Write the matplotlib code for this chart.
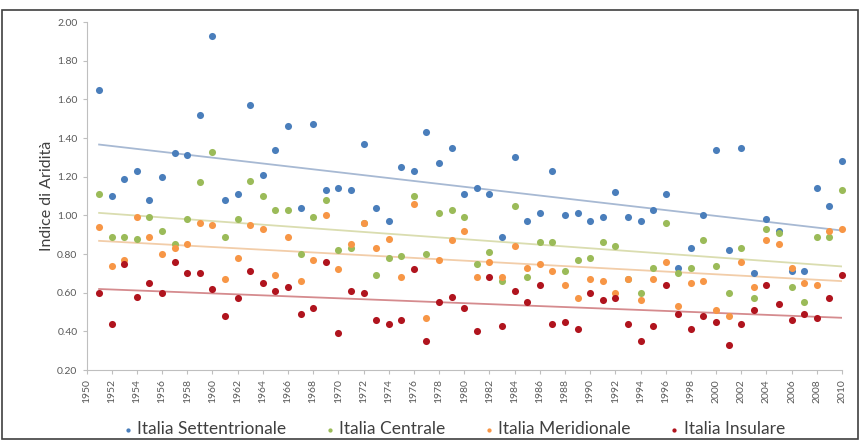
import numpy as np
import matplotlib
matplotlib.use("Agg")
import matplotlib.pyplot as plt
from matplotlib.patches import Rectangle

plt.rcParams['font.family'] = ['Lato', 'DejaVu Sans']

# Data
years = list(range(1951, 2011))

settentrionale = [1.65, 1.10, 1.19, 1.23, 1.08, 1.20, 1.32, 1.31, 1.52, 1.93,
                  1.08, 1.11, 1.57, 1.21, 1.34, 1.46, 1.04, 1.47, 1.13, 1.14,
                  1.13, 1.37, 1.04, 0.97, 1.25, 1.23, 1.43, 1.27, 1.35, 1.11,
                  1.14, 1.11, 0.89, 1.30, 0.97, 1.01, 1.23, 1.00, 1.01, 0.97,
                  0.99, 1.12, 0.99, 0.97, 1.03, 1.11, 0.73, 0.83, 1.00, 1.34,
                  0.82, 1.35, 0.70, 0.98, 0.92, 0.71, 0.71, 1.14, 1.05, 1.28]

centrale = [1.11, 0.89, 0.89, 0.88, 0.99, 0.92, 0.85, 0.98, 1.17, 1.33,
            0.89, 0.98, 1.18, 1.10, 1.03, 1.03, 0.80, 0.99, 1.08, 0.82,
            0.83, 0.96, 0.69, 0.78, 0.79, 1.10, 0.80, 1.01, 1.03, 0.99,
            0.75, 0.81, 0.66, 1.05, 0.68, 0.86, 0.86, 0.71, 0.77, 0.78,
            0.86, 0.84, 0.67, 0.60, 0.73, 0.96, 0.70, 0.73, 0.87, 0.74,
            0.60, 0.83, 0.57, 0.93, 0.91, 0.63, 0.55, 0.89, 0.89, 1.13]

meridionale = [0.94, 0.74, 0.77, 0.99, 0.89, 0.80, 0.83, 0.85, 0.96, 0.95,
               0.67, 0.78, 0.95, 0.93, 0.69, 0.89, 0.66, 0.77, 1.00, 0.72,
               0.85, 0.96, 0.83, 0.88, 0.68, 1.06, 0.47, 0.77, 0.87, 0.92,
               0.68, 0.76, 0.68, 0.84, 0.73, 0.75, 0.71, 0.64, 0.57, 0.67,
               0.66, 0.60, 0.67, 0.56, 0.67, 0.76, 0.53, 0.65, 0.66, 0.51,
               0.48, 0.76, 0.63, 0.87, 0.85, 0.73, 0.65, 0.64, 0.92, 0.93]

insulare = [0.60, 0.44, 0.75, 0.58, 0.65, 0.60, 0.76, 0.70, 0.70, 0.62,
            0.48, 0.57, 0.71, 0.65, 0.61, 0.63, 0.49, 0.52, 0.76, 0.39,
            0.61, 0.60, 0.46, 0.44, 0.46, 0.72, 0.35, 0.55, 0.58, 0.52,
            0.40, 0.68, 0.43, 0.61, 0.55, 0.64, 0.44, 0.45, 0.41, 0.60,
            0.56, 0.57, 0.44, 0.35, 0.43, 0.64, 0.49, 0.41, 0.48, 0.45,
            0.33, 0.44, 0.51, 0.64, 0.54, 0.46, 0.49, 0.47, 0.57, 0.69]

labels = ["Italia Settentrionale", "Italia Centrale", "Italia Meridionale", "Italia Insulare"]
colors = ["#4A7EBB", "#9BBB59", "#F79646", "#B0141E"]
trend_colors = ["#A7B9D3", "#DADDB0", "#F2CDA9", "#D58B8E"]
series = [settentrionale, centrale, meridionale, insulare]

fig = plt.figure(figsize=(8.61, 4.40), dpi=100)
ax = fig.add_axes([86.5 / 861, 70 / 440, (842 - 86.5) / 861, 348 / 440])

x = np.array(years)
for vals, c, tc, lab in zip(series, colors, trend_colors, labels):
    ax.scatter(x, vals, s=26, color=c, label=lab, zorder=3, clip_on=False, linewidths=0)
    # linear trend line
    k, b = np.polyfit(x, vals, 1)
    ax.plot([x[0], x[-1]], [k * x[0] + b, k * x[-1] + b], color=tc, lw=1.3, zorder=2)

ax.set_xlim(1950, 2010)
ax.set_ylim(0.20, 2.00)
ax.set_xticks(range(1950, 2011, 2))
ax.set_xticklabels([str(y) for y in range(1950, 2011, 2)], rotation=90, fontsize=7.5, color="#595959")
ax.set_yticks(np.arange(0.2, 2.01, 0.2))
ax.set_yticklabels(["%.2f" % v for v in np.arange(0.2, 2.01, 0.2)], fontsize=7.5, color="#595959")
ax.tick_params(axis="both", direction="out", length=3, color="#BFBFBF", width=0.8)

for side in ["top", "right"]:
    ax.spines[side].set_visible(False)
for side in ["left", "bottom"]:
    ax.spines[side].set_color("#BFBFBF")
    ax.spines[side].set_linewidth(0.8)

ax.set_ylabel("Indice di Aridità", fontsize=11.5, color="#404040", labelpad=2)

leg = fig.legend(loc="center", bbox_to_anchor=(0.525, 0.024), ncol=4, frameon=False,
                 fontsize=12.5, handletextpad=0.05, columnspacing=2.0, markerscale=0.6,
                 handlelength=1.0)
for t in leg.get_texts():
    t.set_color("#404040")

# chart border
fig.patches.append(Rectangle((2 / 861, 1 / 440), 856 / 861, 429 / 440, transform=fig.transFigure,
                             fill=False, edgecolor="#404040", lw=1.2))

fig.savefig("out.png", dpi=100)
